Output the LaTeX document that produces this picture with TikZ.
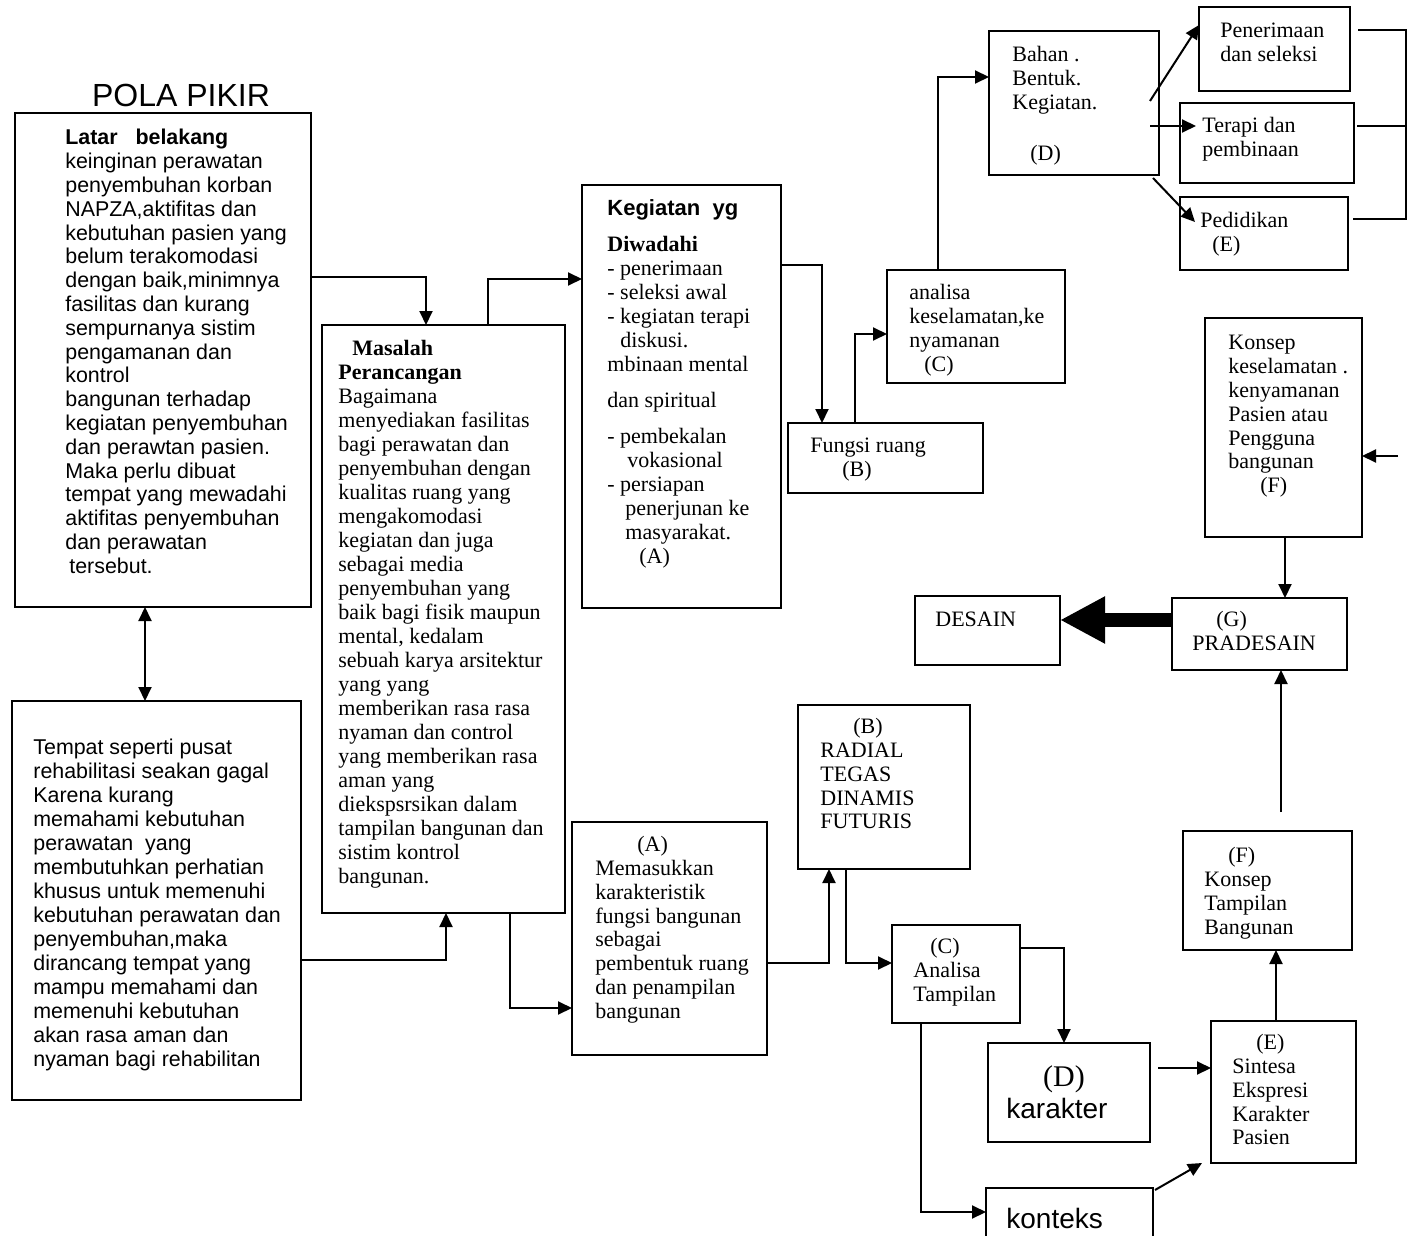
\documentclass[tikz,border=0pt]{standalone}
\usepackage{fontspec}
\setmainfont{Liberation Serif}
\newfontfamily\arialfont{Liberation Sans}
\usetikzlibrary{arrows.meta,calc}

\tikzset{
  kotak/.style={draw, line width=1.1pt, inner sep=0pt, outer sep=0pt, anchor=north west},
  teks/.style={anchor=north west, inner sep=0pt, align=left, font=\fontsize{11}{11.9}\selectfont,
    execute at begin node={\rule{0pt}{9pt}}},
  teksA/.style={teks, font=\arialfont\fontsize{10.7}{11.9}\selectfont},
  teksB/.style={anchor=base west, inner sep=0pt, font=\arialfont\fontsize{14}{16}\selectfont},
  panah/.style={line width=1pt, -{Triangle[length=7pt,width=6.5pt]}},
  panah2/.style={line width=1pt, {Triangle[length=7pt,width=6.5pt]}-{Triangle[length=7pt,width=6.5pt]}},
  garis/.style={line width=1pt},
  tebal/.style={line width=7pt, -{Triangle[length=22.5pt,width=22pt]}}
}

\begin{document}
\begin{tikzpicture}[x=0.5pt, y=-0.5pt]
\useasboundingbox (0,0) rectangle (1415,1236);
\clip (0,0) rectangle (1415,1236);

\node[anchor=base, inner sep=0pt, font=\arialfont\fontsize{16}{18}\selectfont] (judul) at (181,107) {POLA PIKIR};

% kotak kiri dan tengah
\node[kotak, minimum width=148pt, minimum height=247pt] (latar) at (15,113) {};
\node[kotak, minimum width=144.5pt, minimum height=199.5pt] (tempat) at (12,701) {};
\node[kotak, minimum width=121.5pt, minimum height=294pt] (masalah) at (322,325) {};
\node[kotak, minimum width=99.5pt, minimum height=211.5pt] (kegiatan) at (582,185) {};
\node[kotak, minimum width=97.5pt, minimum height=35pt] (fungsi) at (788,423) {};
\node[kotak, minimum width=89pt, minimum height=56.5pt] (analisa) at (887,270) {};
\node[kotak, minimum width=85pt, minimum height=72pt] (bahan) at (989,31) {};
\node[kotak, minimum width=75.5pt, minimum height=42pt] (terima) at (1199,7) {};
\node[kotak, minimum width=87pt, minimum height=40pt] (terapi) at (1180,103) {};
\node[kotak, minimum width=84pt, minimum height=36.5pt] (didik) at (1180,197) {};
\node[kotak, minimum width=78.5pt, minimum height=109.5pt] (konsep) at (1205,318) {};
\node[kotak, minimum width=87.5pt, minimum height=36pt] (pradesain) at (1172,598) {};
\node[kotak, minimum width=72.5pt, minimum height=34.5pt] (desain) at (915,596) {};

% kotak bawah
\node[kotak, minimum width=97.5pt, minimum height=116.5pt] (masuk) at (572,822) {};
\node[kotak, minimum width=86pt, minimum height=82pt] (radial) at (798,705) {};
\node[kotak, minimum width=64pt, minimum height=49pt] (tampil) at (892,925) {};
\node[kotak, minimum width=81pt, minimum height=49.5pt] (karakter) at (988,1043) {};
\node[kotak, minimum width=83.5pt, minimum height=36pt] (konteks) at (986,1188) {};
\node[kotak, minimum width=72.5pt, minimum height=71pt] (sintesa) at (1211,1021) {};
\node[kotak, minimum width=84.5pt, minimum height=59.5pt] (konsept) at (1183,831) {};

% isi teks
\node[teksA] (latarT) at (65,129) {\textbf{Latar\ \ \ belakang}\\
keinginan perawatan\\
penyembuhan korban\\
NAPZA,aktifitas dan\\
kebutuhan pasien yang\\
belum terakomodasi\\
dengan baik,minimnya\\
fasilitas dan kurang\\
sempurnanya sistim\\
pengamanan dan\\
kontrol\\
bangunan terhadap\\
kegiatan penyembuhan\\
dan perawtan pasien.\\
Maka perlu dibuat\\
tempat yang mewadahi\\
aktifitas penyembuhan\\
dan perawatan\\
\hspace*{2pt}tersebut.};

\node[teksA, font=\arialfont\fontsize{10.7}{12}\selectfont] (tempatT) at (33,739) {Tempat seperti pusat\\
rehabilitasi seakan gagal\\
Karena kurang\\
memahami kebutuhan\\
perawatan\ \ yang\\
membutuhkan perhatian\\
khusus untuk memenuhi\\
kebutuhan perawatan dan\\
penyembuhan,maka\\
dirancang tempat yang\\
mampu memahami dan\\
memenuhi kebutuhan\\
akan rasa aman dan\\
nyaman bagi rehabilitan};

\node[teks, font=\fontsize{11}{12}\selectfont] (masalahT) at (338,340) {\hspace*{7pt}\textbf{Masalah}\\
\textbf{Perancangan}\\
Bagaimana\\
menyediakan fasilitas\\
bagi perawatan dan\\
penyembuhan dengan\\
kualitas ruang yang\\
mengakomodasi\\
kegiatan dan juga\\
sebagai media\\
penyembuhan yang\\
baik bagi fisik maupun\\
mental, kedalam\\
sebuah karya arsitektur\\
yang yang\\
memberikan rasa rasa\\
nyaman dan control\\
yang memberikan rasa\\
aman yang\\
diekspsrsikan dalam\\
tampilan bangunan dan\\
sistim kontrol\\
bangunan.};

\node[teks, font=\fontsize{11}{12}\selectfont] (kegiatanT) at (607,199) {{\arialfont\bfseries Kegiatan\ \ yg}\\[6pt]
\textbf{Diwadahi}\\
- penerimaan\\
- seleksi awal\\
- kegiatan terapi\\
\hspace*{6.5pt}diskusi.\\
mbinaan mental\\[6pt]
dan spiritual\\[6pt]
- pembekalan\\
\hspace*{10pt}vokasional\\
- persiapan\\
\hspace*{9pt}penerjunan ke\\
\hspace*{9pt}masyarakat.\\
\hspace*{16pt}(A)};

\node[teks] (fungsiT) at (810,438) {Fungsi ruang\\ \hspace*{16pt}(B)};
\node[teks] (analisaT) at (909,284) {analisa\\ keselamatan,ke\\ nyamanan\\ \hspace*{7.5pt}(C)};
\node[teks] (bahanT) at (1012,46) {Bahan .\\ Bentuk.\\ Kegiatan.\\[13.5pt] \hspace*{9pt}(D)};
\node[teks] (terimaT) at (1220,23) {Penerimaan\\ dan seleksi};
\node[teks] (terapiT) at (1202,117) {Terapi dan\\ pembinaan};
\node[teks] (didikT) at (1200,212) {Pedidikan\\ \hspace*{6pt}(E)};
\node[teks] (konsepT) at (1228,335) {Konsep\\ keselamatan .\\ kenyamanan\\ Pasien atau\\ Pengguna\\ bangunan\\ \hspace*{16pt}(F)};
\node[teks] (pradesainT) at (1192,611) {\hspace*{12pt}(G)\\ PRADESAIN};
\node[teks] (desainT) at (935,608) {DESAIN};

\node[teks] (masukT) at (595,836) {\hspace*{21pt}(A)\\ Memasukkan\\ karakteristik\\ fungsi bangunan\\ sebagai\\ pembentuk ruang\\ dan penampilan\\ bangunan};
\node[teks] (radialT) at (820,718) {\hspace*{16.5pt}(B)\\ RADIAL\\ TEGAS\\ DINAMIS\\ FUTURIS};
\node[teks] (tampilT) at (913,938) {\hspace*{8.5pt}(C)\\ Analisa\\ Tampilan};
\node[anchor=base, inner sep=0pt, font=\fontsize{15}{16}\selectfont] (karakterD) at (1064,1086) {(D)};
\node[teksB] (karakterT) at (1006,1118) {karakter};
\node[teksB] (konteksT) at (1006,1228) {konteks};
\node[teks] (sintesaT) at (1232,1034) {\hspace*{12pt}(E)\\ Sintesa\\ Ekspresi\\ Karakter\\ Pasien};
\node[teks] (konseptT) at (1204,847) {\hspace*{12pt}(F)\\ Konsep\\ Tampilan\\ Bangunan};

% panah atas
\draw[panah] (latar.east |- 0,277) -| (masalah.north -| 426,0);
\draw[panah] (masalah.north -| 488,0) |- (kegiatan.west |- 0,279);
\draw[panah2] (latar.south -| 145,0) -- (tempat.north -| 145,0);
\draw[panah] (tempat.east |- 0,960) -| (masalah.south -| 446,0);
\draw[panah] (masalah.south -| 510,0) |- (masuk.west |- 0,1008);
\draw[panah] (kegiatan.east |- 0,265) -| (fungsi.north -| 822,0);
\draw[panah] (fungsi.north -| 855,0) |- (analisa.west |- 0,334);
\draw[panah] (analisa.north -| 938,0) |- (bahan.west |- 0,77);
\draw[panah] ($(bahan.east |- 0,101)+(-9,0)$) -- (terima.west |- 0,25);
\draw[panah] ($(bahan.east |- 0,126)+(-9,0)$) -- ($(terapi.west |- 0,126)+(16,0)$);
\draw[panah] ($(bahan.east |- 0,178)+(-6,0)$) -- ($(didik.west |- 0,222)+(15,0)$);

% kurung kanan
\coordinate (sikuA) at (1406,30);
\coordinate (sikuB) at (1406,219);
\draw[garis] ($(terima.east |- sikuA)+(8,0)$) -- (sikuA) -- (sikuB) -- ($(didik.east |- sikuB)+(5,0)$);
\draw[garis] ($(terapi.east |- 0,126)+(3,0)$) -- (sikuA |- 0,126);

% panah kanan
\coordinate (masukF) at (1398,456);
\draw[panah] (masukF) -- (konsep.east |- masukF);
\draw[panah] (konsep.south -| 1285,0) -- (pradesain.north -| 1285,0);
\draw[tebal] (pradesain.west |- 0,620) -- (desain.east |- 0,620);

% panah bawah
\draw[panah] (masuk.east |- 0,963) -| (radial.south -| 829,0);
\draw[panah] (radial.south -| 846,0) |- (tampil.west |- 0,963);
\draw[panah] (tampil.east |- 0,948) -| (karakter.north -| 1064,0);
\draw[panah] (tampil.south -| 921,0) |- (konteks.west |- 0,1212);
\draw[panah] ($(karakter.east |- 0,1068)+(8,0)$) -- (sintesa.west |- 0,1068);
\draw[panah] ($(konteks.north east)+(2,2)$) -- ($(sintesa.south west)+(-9,0)$);
\draw[panah] (sintesa.north -| 1276,0) -- (konsept.south -| 1276,0);
\draw[panah] ($(konsept.north -| 1281,0)+(0,-19)$) -- (pradesain.south -| 1281,0);
\end{tikzpicture}
\end{document}
